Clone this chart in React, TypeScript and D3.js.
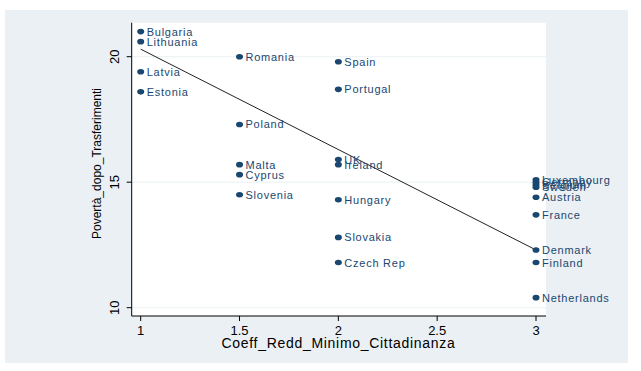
import React from "react";
import * as d3 from "d3";

const countries = ["Bulgaria","Lithuania","Latvia","Estonia","Romania","Poland","Malta","Cyprus","Slovenia","Spain","Portugal","UK","Ireland","Hungary","Slovakia","Czech Rep","Luxembourg","Germany","Belgium","Sweden","Austria","France","Denmark","Finland","Netherlands"];
const coeff = [1,1,1,1,1.5,1.5,1.5,1.5,1.5,2,2,2,2,2,2,2,3,3,3,3,3,3,3,3,3];
const poverty = [21.0,20.6,19.4,18.6,20.0,17.3,15.7,15.3,14.5,19.8,18.7,15.9,15.7,14.3,12.8,11.8,15.1,15.0,14.9,14.8,14.4,13.7,12.3,11.8,10.4];
const fitX = [1, 3];
const fitY = [20.3, 12.3];
const xTicks = [1, 1.5, 2, 2.5, 3];
const yTicks = [10, 15, 20];

const W = 641, H = 371;
const navy = "#1a476f";
const font = "'Liberation Sans', Arial, sans-serif";

export default function App() {
  const x = d3.scaleLinear().domain([1, 3]).range([140.7, 536]);
  const y = d3.scaleLinear().domain([10, 20]).range([307.7, 56.7]);
  const left = 131.7, right = 546, top = 22.7, bottom = 316;
  const line = d3.line<number>().x((_, i) => x(fitX[i])).y((d) => y(d));
  return (
    <svg width={W} height={H} style={{ position: "absolute", left: 0, top: 0 }} fontFamily={font}>
      <rect x={0} y={0} width={W} height={H} fill="#ffffff" />
      <rect x={5} y={10} width={623} height={353} fill="#eaf0f3" />
      <rect x={left} y={top} width={right - left} height={bottom - top} fill="#ffffff" />
      {yTicks.map((t) => (
        <line key={"g" + t} x1={left} x2={right} y1={y(t)} y2={y(t)} stroke="#eaf2f3" strokeWidth={1} />
      ))}
      <line x1={left} x2={left} y1={top} y2={bottom} stroke="#000" strokeWidth={1} />
      <line x1={left} x2={right} y1={bottom} y2={bottom} stroke="#000" strokeWidth={1} />
      {yTicks.map((t) => (
        <g key={"y" + t}>
          <line x1={left - 5} x2={left} y1={y(t)} y2={y(t)} stroke="#000" />
          <text transform={`translate(${119},${y(t)}) rotate(-90)`} textAnchor="middle" fontSize={13} fill="#000">{t}</text>
        </g>
      ))}
      {xTicks.map((t) => (
        <g key={"x" + t}>
          <line x1={x(t)} x2={x(t)} y1={bottom} y2={bottom + 5} stroke="#000" />
          <text x={x(t)} y={335} textAnchor="middle" fontSize={13} fill="#000">{t}</text>
        </g>
      ))}
      <text x={338.5} y={348} textAnchor="middle" fontSize={14} fill="#000" letterSpacing={0.7}>Coeff_Redd_Minimo_Cittadinanza</text>
      <text transform={`translate(${101},${163.5}) rotate(-90)`} textAnchor="middle" fontSize={12} fill="#000">Povertà_dopo_Trasferimenti</text>
      <path d={line(fitY) || ""} fill="none" stroke="#222" strokeWidth={1} />
      {countries.map((c, i) => (
        <g key={c}>
          <ellipse cx={x(coeff[i])} cy={y(poverty[i])} rx={3.5} ry={2.8} fill={navy} />
          <text x={x(coeff[i]) + 6} y={y(poverty[i]) + 4} fontSize={11} fill={navy} letterSpacing={0.75}>{c}</text>
        </g>
      ))}
    </svg>
  );
}
